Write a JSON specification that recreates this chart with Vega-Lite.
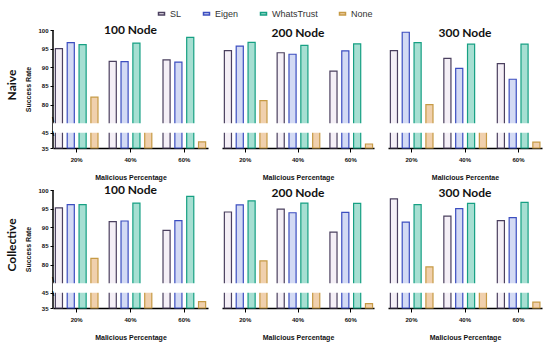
{
  "$schema": "https://vega.github.io/schema/vega-lite/v6.json",
  "background": "white",
  "padding": {"left": 5, "right": 5, "top": 9, "bottom": 3},
  "datasets": {
    "d": [
      {"mode":"Naive","node":"100 Node","pct":"20%","method":"SL","value":95.0},
      {"mode":"Naive","node":"100 Node","pct":"20%","method":"Eigen","value":96.6},
      {"mode":"Naive","node":"100 Node","pct":"20%","method":"WhatsTrust","value":96.1},
      {"mode":"Naive","node":"100 Node","pct":"20%","method":"None","value":82.0},
      {"mode":"Naive","node":"100 Node","pct":"40%","method":"SL","value":91.6},
      {"mode":"Naive","node":"100 Node","pct":"40%","method":"Eigen","value":91.5},
      {"mode":"Naive","node":"100 Node","pct":"40%","method":"WhatsTrust","value":96.5},
      {"mode":"Naive","node":"100 Node","pct":"40%","method":"None","value":50},
      {"mode":"Naive","node":"100 Node","pct":"60%","method":"SL","value":92.0},
      {"mode":"Naive","node":"100 Node","pct":"60%","method":"Eigen","value":91.4},
      {"mode":"Naive","node":"100 Node","pct":"60%","method":"WhatsTrust","value":98.0},
      {"mode":"Naive","node":"100 Node","pct":"60%","method":"None","value":39.0},
      {"mode":"Naive","node":"200 Node","pct":"20%","method":"SL","value":94.5},
      {"mode":"Naive","node":"200 Node","pct":"20%","method":"Eigen","value":95.7},
      {"mode":"Naive","node":"200 Node","pct":"20%","method":"WhatsTrust","value":96.7},
      {"mode":"Naive","node":"200 Node","pct":"20%","method":"None","value":81.1},
      {"mode":"Naive","node":"200 Node","pct":"40%","method":"SL","value":93.9},
      {"mode":"Naive","node":"200 Node","pct":"40%","method":"Eigen","value":93.5},
      {"mode":"Naive","node":"200 Node","pct":"40%","method":"WhatsTrust","value":95.9},
      {"mode":"Naive","node":"200 Node","pct":"40%","method":"None","value":50},
      {"mode":"Naive","node":"200 Node","pct":"60%","method":"SL","value":89.0},
      {"mode":"Naive","node":"200 Node","pct":"60%","method":"Eigen","value":94.4},
      {"mode":"Naive","node":"200 Node","pct":"60%","method":"WhatsTrust","value":96.3},
      {"mode":"Naive","node":"200 Node","pct":"60%","method":"None","value":37.6},
      {"mode":"Naive","node":"300 Node","pct":"20%","method":"SL","value":94.5},
      {"mode":"Naive","node":"300 Node","pct":"20%","method":"Eigen","value":99.4},
      {"mode":"Naive","node":"300 Node","pct":"20%","method":"WhatsTrust","value":96.6},
      {"mode":"Naive","node":"300 Node","pct":"20%","method":"None","value":80.0},
      {"mode":"Naive","node":"300 Node","pct":"40%","method":"SL","value":92.4},
      {"mode":"Naive","node":"300 Node","pct":"40%","method":"Eigen","value":89.7},
      {"mode":"Naive","node":"300 Node","pct":"40%","method":"WhatsTrust","value":96.2},
      {"mode":"Naive","node":"300 Node","pct":"40%","method":"None","value":50},
      {"mode":"Naive","node":"300 Node","pct":"60%","method":"SL","value":91.0},
      {"mode":"Naive","node":"300 Node","pct":"60%","method":"Eigen","value":86.8},
      {"mode":"Naive","node":"300 Node","pct":"60%","method":"WhatsTrust","value":96.2},
      {"mode":"Naive","node":"300 Node","pct":"60%","method":"None","value":38.8},
      {"mode":"Collective","node":"100 Node","pct":"20%","method":"SL","value":95.2},
      {"mode":"Collective","node":"100 Node","pct":"20%","method":"Eigen","value":96.1},
      {"mode":"Collective","node":"100 Node","pct":"20%","method":"WhatsTrust","value":96.1},
      {"mode":"Collective","node":"100 Node","pct":"20%","method":"None","value":81.7},
      {"mode":"Collective","node":"100 Node","pct":"40%","method":"SL","value":91.5},
      {"mode":"Collective","node":"100 Node","pct":"40%","method":"Eigen","value":91.7},
      {"mode":"Collective","node":"100 Node","pct":"40%","method":"WhatsTrust","value":96.5},
      {"mode":"Collective","node":"100 Node","pct":"40%","method":"None","value":50},
      {"mode":"Collective","node":"100 Node","pct":"60%","method":"SL","value":89.2},
      {"mode":"Collective","node":"100 Node","pct":"60%","method":"Eigen","value":91.8},
      {"mode":"Collective","node":"100 Node","pct":"60%","method":"WhatsTrust","value":98.3},
      {"mode":"Collective","node":"100 Node","pct":"60%","method":"None","value":39.2},
      {"mode":"Collective","node":"200 Node","pct":"20%","method":"SL","value":94.1},
      {"mode":"Collective","node":"200 Node","pct":"20%","method":"Eigen","value":96.0},
      {"mode":"Collective","node":"200 Node","pct":"20%","method":"WhatsTrust","value":97.1},
      {"mode":"Collective","node":"200 Node","pct":"20%","method":"None","value":81.0},
      {"mode":"Collective","node":"200 Node","pct":"40%","method":"SL","value":94.9},
      {"mode":"Collective","node":"200 Node","pct":"40%","method":"Eigen","value":93.9},
      {"mode":"Collective","node":"200 Node","pct":"40%","method":"WhatsTrust","value":96.5},
      {"mode":"Collective","node":"200 Node","pct":"40%","method":"None","value":50},
      {"mode":"Collective","node":"200 Node","pct":"60%","method":"SL","value":88.7},
      {"mode":"Collective","node":"200 Node","pct":"60%","method":"Eigen","value":94.0},
      {"mode":"Collective","node":"200 Node","pct":"60%","method":"WhatsTrust","value":96.4},
      {"mode":"Collective","node":"200 Node","pct":"60%","method":"None","value":37.8},
      {"mode":"Collective","node":"300 Node","pct":"20%","method":"SL","value":97.6},
      {"mode":"Collective","node":"300 Node","pct":"20%","method":"Eigen","value":91.4},
      {"mode":"Collective","node":"300 Node","pct":"20%","method":"WhatsTrust","value":96.1},
      {"mode":"Collective","node":"300 Node","pct":"20%","method":"None","value":79.4},
      {"mode":"Collective","node":"300 Node","pct":"40%","method":"SL","value":93.0},
      {"mode":"Collective","node":"300 Node","pct":"40%","method":"Eigen","value":95.0},
      {"mode":"Collective","node":"300 Node","pct":"40%","method":"WhatsTrust","value":96.4},
      {"mode":"Collective","node":"300 Node","pct":"40%","method":"None","value":50},
      {"mode":"Collective","node":"300 Node","pct":"60%","method":"SL","value":91.8},
      {"mode":"Collective","node":"300 Node","pct":"60%","method":"Eigen","value":92.6},
      {"mode":"Collective","node":"300 Node","pct":"60%","method":"WhatsTrust","value":96.7},
      {"mode":"Collective","node":"300 Node","pct":"60%","method":"None","value":38.8}
    ]
  },
  "data": {"name": "d"},
  "vconcat": [
    {
      "title": {"text": "Naive", "orient": "left", "anchor": "middle", "fontSize": 12, "font": "Lato", "fontWeight": "bold", "color": "#111", "offset": 6, "dx": 17},
      "spacing": 14,
      "hconcat": [
        {
          "width": 155, "height": 118,
          "title": {"text": "100 Node"},
          "transform": [{"filter": "datum.mode === 'Naive' && datum.node === '100 Node'"}],
          "layer": [
            {"mark": {"type": "bar", "strokeWidth": 1.2},
             "encoding": {
               "x": {"field": "pct", "type": "nominal", "scale": {"paddingInner": 0.12, "paddingOuter": 0}, "axis": {"title": "Malicious Percentage"}},
               "xOffset": {"field": "method", "type": "nominal", "sort": ["SL","Eigen","WhatsTrust","None"], "scale": {"paddingInner": 0.4, "paddingOuter": 0.2}},
               "y": {"field": "value", "type": "quantitative", "scale": {"domain": [35,45,75,100], "range": [118,102.7,93.3,0], "zero": false, "nice": false}, "axis": {"title": "Success Rate", "values": [35,45,80,85,90,95,100], "domain": false}},
               "y2": {"datum": 35},
               "stroke": {"field": "method", "type": "nominal", "scale": {"domain": ["SL","Eigen","WhatsTrust","None"], "range": ["#4b405f","#3c4ec0","#16a083","#c69a45"]}, "legend": {"title": null}},
               "fill": {"field": "method", "type": "nominal", "scale": {"domain": ["SL","Eigen","WhatsTrust","None"], "range": ["#f4eff6","#d3daf4","#a6dfd2","#f0d0ad"]}, "legend": {"title": null}}
             }},
            {"data": {"values": [{}]}, "mark": {"type": "rule", "color": "#000", "strokeWidth": 1.5},
             "encoding": {"x": {"datum": "20%", "type": "nominal", "bandPosition": 0}, "y": {"datum": 35, "type": "quantitative", "axis": {"title": "Success Rate", "values": [35,45,80,85,90,95,100], "domain": false}}, "y2": {"datum": 100}}},
            {"data": {"values": [{}]}, "mark": {"type": "rect", "fill": "white"},
             "encoding": {"y": {"datum": 45, "type": "quantitative", "axis": {"title": "Success Rate", "values": [35,45,80,85,90,95,100], "domain": false}}, "y2": {"datum": 75}}},
            {"data": {"values": [{}]}, "mark": {"type": "text", "text": "\\", "fontSize": 8, "fontWeight": "bold", "color": "#000", "baseline": "middle"},
             "encoding": {"x": {"datum": "20%", "type": "nominal", "bandPosition": 0}, "y": {"datum": 76, "type": "quantitative", "axis": {"title": "Success Rate", "values": [35,45,80,85,90,95,100], "domain": false}}}},
            {"data": {"values": [{}]}, "mark": {"type": "text", "text": "\\", "fontSize": 8, "fontWeight": "bold", "color": "#000", "baseline": "middle"},
             "encoding": {"x": {"datum": "20%", "type": "nominal", "bandPosition": 0}, "y": {"datum": 44, "type": "quantitative", "axis": {"title": "Success Rate", "values": [35,45,80,85,90,95,100], "domain": false}}}}
          ]
        },
        {
          "width": 152, "height": 118,
          "title": {"text": "200 Node"},
          "transform": [{"filter": "datum.mode === 'Naive' && datum.node === '200 Node'"}],
          "layer": [
            {"mark": {"type": "bar", "strokeWidth": 1.2},
             "encoding": {
               "x": {"field": "pct", "type": "nominal", "scale": {"paddingInner": 0.12, "paddingOuter": 0}, "axis": {"title": "Malicious Percentage"}},
               "xOffset": {"field": "method", "type": "nominal", "sort": ["SL","Eigen","WhatsTrust","None"], "scale": {"paddingInner": 0.4, "paddingOuter": 0.2}},
               "y": {"field": "value", "type": "quantitative", "scale": {"domain": [35,45,75,100], "range": [118,102.7,93.3,0], "zero": false, "nice": false}, "axis": null},
               "y2": {"datum": 35},
               "stroke": {"field": "method", "type": "nominal", "legend": {"title": null}},
               "fill": {"field": "method", "type": "nominal", "legend": {"title": null}}
             }},
            {"data": {"values": [{}]}, "mark": {"type": "rect", "fill": "white"},
             "encoding": {"y": {"datum": 45, "type": "quantitative", "axis": null}, "y2": {"datum": 75}}}
          ]
        },
        {
          "width": 154, "height": 118,
          "title": {"text": "300 Node"},
          "transform": [{"filter": "datum.mode === 'Naive' && datum.node === '300 Node'"}],
          "layer": [
            {"mark": {"type": "bar", "strokeWidth": 1.2},
             "encoding": {
               "x": {"field": "pct", "type": "nominal", "scale": {"paddingInner": 0.12, "paddingOuter": 0}, "axis": {"title": "Malicious Percentae"}},
               "xOffset": {"field": "method", "type": "nominal", "sort": ["SL","Eigen","WhatsTrust","None"], "scale": {"paddingInner": 0.4, "paddingOuter": 0.2}},
               "y": {"field": "value", "type": "quantitative", "scale": {"domain": [35,45,75,100], "range": [118,102.7,93.3,0], "zero": false, "nice": false}, "axis": null},
               "y2": {"datum": 35},
               "stroke": {"field": "method", "type": "nominal", "legend": {"title": null}},
               "fill": {"field": "method", "type": "nominal", "legend": {"title": null}}
             }},
            {"data": {"values": [{}]}, "mark": {"type": "rect", "fill": "white"},
             "encoding": {"y": {"datum": 45, "type": "quantitative", "axis": null}, "y2": {"datum": 75}}}
          ]
        }
      ]
    },
    {
      "title": {"text": "Collective", "orient": "left", "anchor": "middle", "fontSize": 12, "font": "Lato", "fontWeight": "bold", "color": "#111", "offset": 6, "dx": 17},
      "spacing": 14,
      "hconcat": [
        {
          "width": 155, "height": 118,
          "title": {"text": "100 Node"},
          "transform": [{"filter": "datum.mode === 'Collective' && datum.node === '100 Node'"}],
          "layer": [
            {"mark": {"type": "bar", "strokeWidth": 1.2},
             "encoding": {
               "x": {"field": "pct", "type": "nominal", "scale": {"paddingInner": 0.12, "paddingOuter": 0}, "axis": {"title": "Malicious Percentage"}},
               "xOffset": {"field": "method", "type": "nominal", "sort": ["SL","Eigen","WhatsTrust","None"], "scale": {"paddingInner": 0.4, "paddingOuter": 0.2}},
               "y": {"field": "value", "type": "quantitative", "scale": {"domain": [35,45,75,100], "range": [118,102.7,93.3,0], "zero": false, "nice": false}, "axis": {"title": "Success Rate", "values": [35,45,80,85,90,95,100], "domain": false}},
               "y2": {"datum": 35},
               "stroke": {"field": "method", "type": "nominal", "legend": {"title": null}},
               "fill": {"field": "method", "type": "nominal", "legend": {"title": null}}
             }},
            {"data": {"values": [{}]}, "mark": {"type": "rule", "color": "#000", "strokeWidth": 1.5},
             "encoding": {"x": {"datum": "20%", "type": "nominal", "bandPosition": 0}, "y": {"datum": 35, "type": "quantitative", "axis": {"title": "Success Rate", "values": [35,45,80,85,90,95,100], "domain": false}}, "y2": {"datum": 100}}},
            {"data": {"values": [{}]}, "mark": {"type": "rect", "fill": "white"},
             "encoding": {"y": {"datum": 45, "type": "quantitative", "axis": {"title": "Success Rate", "values": [35,45,80,85,90,95,100], "domain": false}}, "y2": {"datum": 75}}},
            {"data": {"values": [{}]}, "mark": {"type": "text", "text": "\\", "fontSize": 8, "fontWeight": "bold", "color": "#000", "baseline": "middle"},
             "encoding": {"x": {"datum": "20%", "type": "nominal", "bandPosition": 0}, "y": {"datum": 76, "type": "quantitative", "axis": {"title": "Success Rate", "values": [35,45,80,85,90,95,100], "domain": false}}}},
            {"data": {"values": [{}]}, "mark": {"type": "text", "text": "\\", "fontSize": 8, "fontWeight": "bold", "color": "#000", "baseline": "middle"},
             "encoding": {"x": {"datum": "20%", "type": "nominal", "bandPosition": 0}, "y": {"datum": 44, "type": "quantitative", "axis": {"title": "Success Rate", "values": [35,45,80,85,90,95,100], "domain": false}}}}
          ]
        },
        {
          "width": 152, "height": 118,
          "title": {"text": "200 Node"},
          "transform": [{"filter": "datum.mode === 'Collective' && datum.node === '200 Node'"}],
          "layer": [
            {"mark": {"type": "bar", "strokeWidth": 1.2},
             "encoding": {
               "x": {"field": "pct", "type": "nominal", "scale": {"paddingInner": 0.12, "paddingOuter": 0}, "axis": {"title": "Malicious Percentage"}},
               "xOffset": {"field": "method", "type": "nominal", "sort": ["SL","Eigen","WhatsTrust","None"], "scale": {"paddingInner": 0.4, "paddingOuter": 0.2}},
               "y": {"field": "value", "type": "quantitative", "scale": {"domain": [35,45,75,100], "range": [118,102.7,93.3,0], "zero": false, "nice": false}, "axis": null},
               "y2": {"datum": 35},
               "stroke": {"field": "method", "type": "nominal", "legend": {"title": null}},
               "fill": {"field": "method", "type": "nominal", "legend": {"title": null}}
             }},
            {"data": {"values": [{}]}, "mark": {"type": "rect", "fill": "white"},
             "encoding": {"y": {"datum": 45, "type": "quantitative", "axis": null}, "y2": {"datum": 75}}}
          ]
        },
        {
          "width": 154, "height": 118,
          "title": {"text": "300 Node"},
          "transform": [{"filter": "datum.mode === 'Collective' && datum.node === '300 Node'"}],
          "layer": [
            {"mark": {"type": "bar", "strokeWidth": 1.2},
             "encoding": {
               "x": {"field": "pct", "type": "nominal", "scale": {"paddingInner": 0.12, "paddingOuter": 0}, "axis": {"title": "Malicious Percentage"}},
               "xOffset": {"field": "method", "type": "nominal", "sort": ["SL","Eigen","WhatsTrust","None"], "scale": {"paddingInner": 0.4, "paddingOuter": 0.2}},
               "y": {"field": "value", "type": "quantitative", "scale": {"domain": [35,45,75,100], "range": [118,102.7,93.3,0], "zero": false, "nice": false}, "axis": null},
               "y2": {"datum": 35},
               "stroke": {"field": "method", "type": "nominal", "legend": {"title": null}},
               "fill": {"field": "method", "type": "nominal", "legend": {"title": null}}
             }},
            {"data": {"values": [{}]}, "mark": {"type": "rect", "fill": "white"},
             "encoding": {"y": {"datum": 45, "type": "quantitative", "axis": null}, "y2": {"datum": 75}}}
          ]
        }
      ]
    }
  ],
  "spacing": 4,
  "config": {
    "view": {"stroke": null},
    "font": "Liberation Sans",
    "title": {"font": "Lato", "fontSize": 12, "fontWeight": "bold", "color": "#111", "offset": -10},
    "axis": {
      "grid": false, "domainColor": "#000", "domainWidth": 1.5, "tickColor": "#000", "tickWidth": 1,
      "labelFont": "Liberation Sans", "labelFontSize": 6, "labelFontWeight": "bold", "labelColor": "#111",
      "titleFont": "Liberation Sans", "titleFontSize": 7, "titleFontWeight": "bold", "titleColor": "#111"
    },
    "axisX": {"labelAngle": 0, "tickSize": 4, "labelPadding": 4, "titlePadding": 11},
    "axisY": {"tickSize": 3, "labelPadding": 2, "titlePadding": 6},
    "legend": {
      "orient": "none", "legendX": 104, "legendY": -21, "direction": "horizontal",
      "symbolType": "M-1,-0.42H1V0.42H-1Z", "symbolSize": 36, "symbolStrokeWidth": 1.5,
      "labelFont": "Liberation Sans", "labelFontSize": 9, "labelColor": "#333", "columnPadding": 18, "symbolOffset": 0
    }
  }
}
